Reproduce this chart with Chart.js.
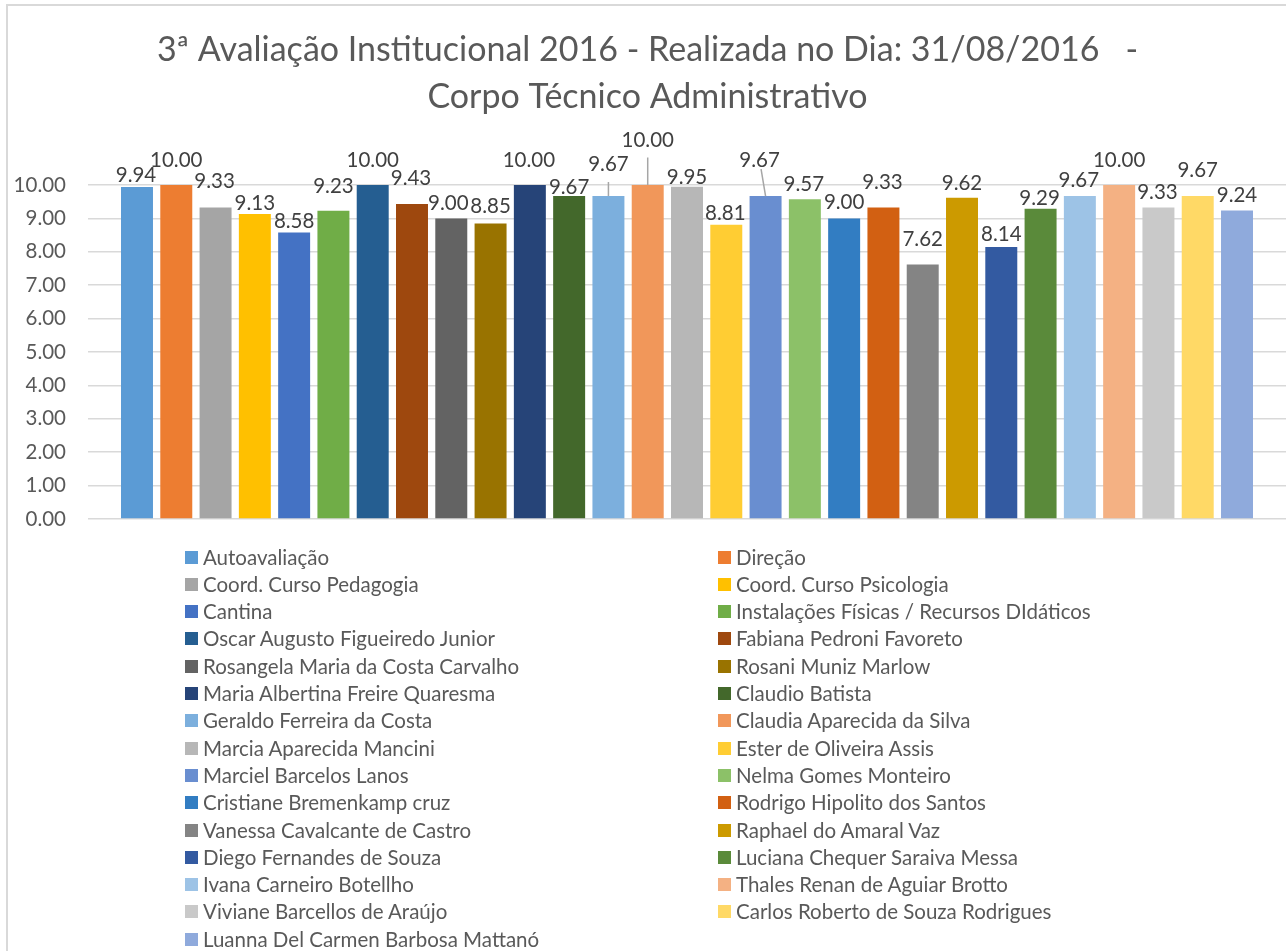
<!DOCTYPE html>
<html>
<head>
<meta charset="utf-8">
<script src="https://cdn.jsdelivr.net/npm/chart.js@4.4.1/dist/chart.umd.min.js"></script>
<style>
  html, body { margin: 0; padding: 0; background: #ffffff; overflow: hidden; }
  #wrap { position: relative; width: 1286px; height: 951px; overflow: hidden; }
  #frame { position: absolute; left: 6px; top: 4px; width: 2000px; height: 2000px;
           border-left: 2px solid #d9d9d9; border-top: 2px solid #d9d9d9; box-sizing: border-box; }
  canvas { position: absolute; left: 0; top: 0; }
  #legend { position: absolute; left: 0; top: 0; width: 1286px; height: 951px; pointer-events: none;
            font-family: Lato, "Liberation Sans", sans-serif; font-size: 20.5px; color: #595959; }
  .item { position: absolute; height: 27px; line-height: 27px; white-space: nowrap; }
  .sw { position: absolute; left: 0; top: 7px; width: 13px; height: 13px; }
  .tx { position: absolute; left: 18px; top: 0; }
</style>
</head>
<body>
<div id="wrap">
  <div id="frame"></div>
  <canvas id="c" width="1286" height="951"></canvas>
  <div id="legend"></div>
</div>
<script>
// ---- data ----
const titleLines = [
  "3ª Avaliação Institucional 2016 - Realizada no Dia: 31/08/2016   -",
  "Corpo Técnico Administrativo"
];
const seriesNames = [
  "Autoavaliação", "Direção",
  "Coord. Curso Pedagogia", "Coord. Curso Psicologia",
  "Cantina", "Instalações Físicas / Recursos DIdáticos",
  "Oscar Augusto Figueiredo Junior", "Fabiana Pedroni Favoreto",
  "Rosangela Maria da Costa Carvalho", "Rosani Muniz Marlow",
  "Maria Albertina Freire Quaresma", "Claudio Batista",
  "Geraldo Ferreira da Costa", "Claudia Aparecida da Silva",
  "Marcia Aparecida Mancini", "Ester de Oliveira Assis",
  "Marciel Barcelos Lanos", "Nelma Gomes Monteiro",
  "Cristiane Bremenkamp cruz", "Rodrigo Hipolito dos Santos",
  "Vanessa Cavalcante de Castro", "Raphael do Amaral Vaz",
  "Diego Fernandes de Souza", "Luciana Chequer Saraiva Messa",
  "Ivana Carneiro Botellho", "Thales Renan de Aguiar Brotto",
  "Viviane Barcellos de Araújo", "Carlos Roberto de Souza Rodrigues",
  "Luanna Del Carmen Barbosa Mattanó"
];
const scores = [
  9.94, 10.00, 9.33, 9.13, 8.58, 9.23, 10.00, 9.43, 9.00, 8.85,
  10.00, 9.67, 9.67, 10.00, 9.95, 8.81, 9.67, 9.57, 9.00, 9.33,
  7.62, 9.62, 8.14, 9.29, 9.67, 10.00, 9.33, 9.67, 9.24
];
const yMin = 0, yMax = 10, yStep = 1;

// ---- styles ----
const barColors = [
  "#5B9BD5", "#ED7D31", "#A5A5A5", "#FFC000", "#4472C4", "#70AD47",
  "#255E91", "#9E480E", "#636363", "#997300", "#264478", "#43682B",
  "#7CAFDD", "#F1975A", "#B7B7B7", "#FFCD33", "#698ED0", "#8CC168",
  "#327DC2", "#D26012", "#848484", "#CC9A00", "#335AA1", "#5A8A3A",
  "#9DC3E6", "#F4B183", "#C9C9C9", "#FFD966", "#8FAADC"
];
// data-label placement relative to the bar top (pixels): horizontal shift and lift
const labelShiftX = [-1,0,-1,0,0,0,0,-1,-3,0,-1,0,0,0,0,-1,-6,-1,0,-1,0,0,0,-1,-1,0,-1,0,0];
const labelLift   = [12,25,26.5,11.5,12,25.5,25,26,16,17.5,25,9.5,32,45.5,10,12.5,36,16,16.5,26,25.5,15.5,14,11.5,16,25,15.5,26,16];
// leader lines: series index, start offset from label centre
const leaders = [
  { s: 12, dx: 0,   dy: 18 },
  { s: 13, dx: 0,   dy: 18 },
  { s: 16, dx: 1.5, dy: 9 }
];

const FONT = "Lato";
const smallSize = 20.5;

const labelPlugin = {
  id: 'valueLabels',
  afterDatasetsDraw(chart) {
    const ctx = chart.ctx;
    ctx.save();
    ctx.strokeStyle = "#a6a6a6";
    ctx.lineWidth = 1.5;
    leaders.forEach(l => {
      const el = chart.getDatasetMeta(l.s).data[0];
      const lx = el.x + labelShiftX[l.s];
      const ly = el.y - labelLift[l.s];
      ctx.beginPath();
      ctx.moveTo(lx + l.dx, ly + l.dy);
      ctx.lineTo(el.x, el.y);
      ctx.stroke();
    });
    ctx.fillStyle = "#404040";
    ctx.font = smallSize + "px " + FONT;
    ctx.textAlign = "center";
    ctx.textBaseline = "alphabetic";
    chart.data.datasets.forEach((ds, i) => {
      const el = chart.getDatasetMeta(i).data[0];
      const x = el.x + labelShiftX[i];
      const y = el.y - labelLift[i];
      ctx.fillText(ds.data[0].toFixed(2), x, y + 0.36 * smallSize);
    });
    ctx.restore();
  }
};

const titlePlugin = {
  id: 'bigTitle',
  afterDraw(chart) {
    const ctx = chart.ctx;
    ctx.save();
    ctx.fillStyle = "#595959";
    ctx.font = "34px " + FONT;
    ctx.textAlign = "center";
    ctx.textBaseline = "alphabetic";
    ctx.fillText(titleLines[0], 647.5, 61);
    ctx.fillText(titleLines[1], 647.5, 108);
    ctx.restore();
  }
};

function build() {
  const datasets = seriesNames.map((n, i) => ({
    label: n,
    data: [scores[i]],
    backgroundColor: barColors[i],
    borderWidth: 0,
    categoryPercentage: 0.951,
    barPercentage: 0.814
  }));

  new Chart(document.getElementById('c'), {
    type: 'bar',
    data: { labels: [''], datasets },
    options: {
      responsive: false,
      devicePixelRatio: 1,
      animation: false,
      layout: { padding: { top: 185, bottom: 432, left: 0, right: 0 } },
      plugins: { legend: { display: false }, title: { display: false }, tooltip: { enabled: false } },
      scales: {
        x: { display: false },
        y: {
          min: yMin, max: yMax,
          afterFit(scale) { scale.width = 88; },
          border: { display: false },
          grid: { color: "#d9d9d9", lineWidth: 1.5, drawTicks: false },
          ticks: {
            stepSize: yStep, padding: 22, color: "#595959",
            font: { family: FONT, size: smallSize },
            callback: v => Number(v).toFixed(2)
          }
        }
      }
    },
    plugins: [labelPlugin, titlePlugin]
  });

  const lg = document.getElementById('legend');
  seriesNames.forEach((n, i) => {
    const col = i % 2, row = Math.floor(i / 2);
    const d = document.createElement('div');
    d.className = 'item';
    d.style.left = (col === 0 ? 185 : 718) + 'px';
    d.style.top = (557 - 13.5 + row * 27.3) + 'px';
    const sw = document.createElement('div');
    sw.className = 'sw';
    sw.style.background = barColors[i];
    const tx = document.createElement('span');
    tx.className = 'tx';
    tx.textContent = n;
    d.appendChild(sw); d.appendChild(tx);
    lg.appendChild(d);
  });
}

if (document.fonts && document.fonts.load) {
  Promise.all([document.fonts.load("34px Lato"), document.fonts.load("20.5px Lato")])
    .then(build, build);
} else { build(); }
</script>
</body>
</html>
